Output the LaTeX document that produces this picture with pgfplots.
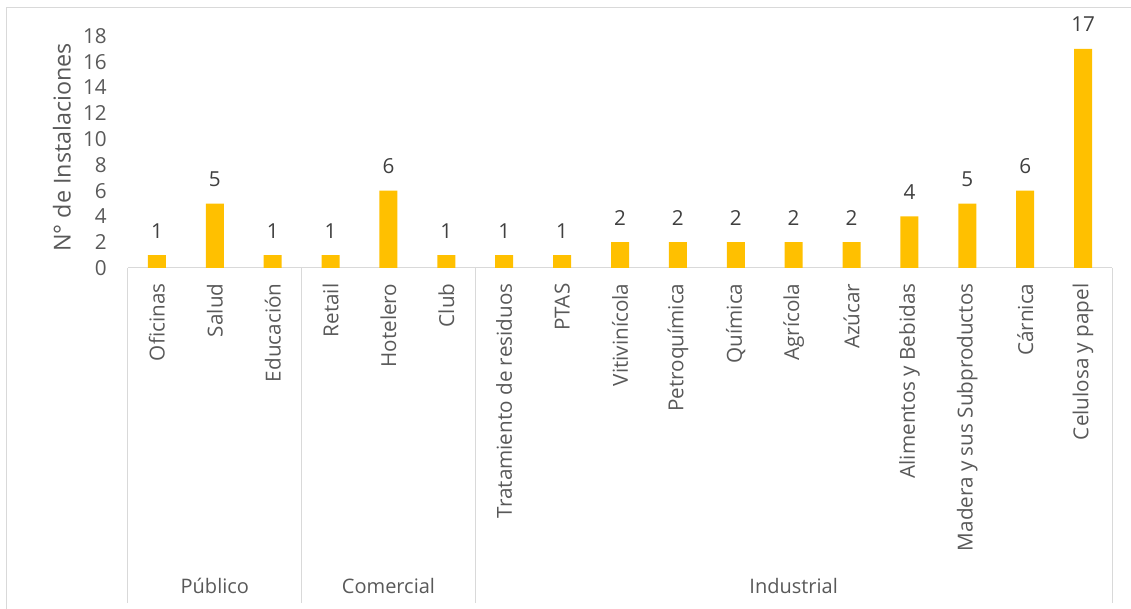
\documentclass[border=0pt]{standalone}
\usepackage{fontspec}
\setmainfont{Open Sans}
\usepackage{pgfplots}
\pgfplotsset{compat=1.18}
\definecolor{barc}{HTML}{FFC000}
\definecolor{txt}{HTML}{595959}
\definecolor{lbl}{HTML}{404040}
\definecolor{gridc}{HTML}{D9D9D9}
\begin{document}
\begin{tikzpicture}
\useasboundingbox (-96pt,-255.75pt) rectangle (752.25pt,201pt);
\draw[gridc, line width=0.75pt] (-90.75pt,-256pt) -- (-90.75pt,195pt) -- (753pt,195pt);
\begin{axis}[
  scale only axis, width=738pt, height=174pt,
  xmin=-0.5, xmax=16.5, ymin=0, ymax=18,
  ytick={0,2,...,18},
  xtick={0,...,16},
  xticklabels={Oficinas,Salud,Educación,Retail,Hotelero,Club,Tratamiento de residuos,PTAS,Vitivinícola,Petroquímica,Química,Agrícola,Azúcar,Alimentos y Bebidas,Madera y sus Subproductos,Cárnica,Celulosa y papel},
  separate axis lines,
  axis x line*=bottom, axis y line*=left,
  x axis line style={draw=gridc, line width=0.75pt, -},
  y axis line style={draw=none},
  major tick length=0pt, tick style={draw=none},
  /pgf/number format/assume math mode=true,
  yticklabel style={font=\fontsize{15.5}{18}\selectfont, text=txt, inner sep=0pt, anchor=east, xshift=-15.75pt},
  xticklabel style={font=\fontsize{15.5}{18}\selectfont, text=txt, inner sep=0pt, rotate=90, anchor=east, xshift=-11.5pt},
  ylabel={N° de Instalaciones},
  ylabel style={font=\fontsize{17.5}{20}\selectfont, text=txt, at={([xshift=-49.5pt]axis description cs:0,0.52)}, anchor=center, inner sep=0pt},
  ybar, bar width=13.5pt,
  nodes near coords,
  nodes near coords style={font=\fontsize{15.5}{18}\selectfont, text=lbl, anchor=south, inner sep=0pt, yshift=12.5pt},
  clip=false,
]
\addplot[fill=barc, draw=none] coordinates {
  (0,1) (1,5) (2,1) (3,1) (4,6) (5,1) (6,1) (7,1) (8,2) (9,2) (10,2) (11,2) (12,2) (13,4) (14,5) (15,6) (16,17)
};
\draw[gridc, line width=0.75pt] (axis cs:-0.5,0) -- ([yshift=-251.25pt]axis cs:-0.5,0);
\draw[gridc, line width=0.75pt] (axis cs:2.5,0) -- ([yshift=-251.25pt]axis cs:2.5,0);
\draw[gridc, line width=0.75pt] (axis cs:5.5,0) -- ([yshift=-251.25pt]axis cs:5.5,0);
\draw[gridc, line width=0.75pt] (axis cs:16.5,0) -- ([yshift=-251.25pt]axis cs:16.5,0);
\node[font=\fontsize{15}{18}\selectfont, text=txt, anchor=base, inner sep=0pt] at ([yshift=-243.75pt]axis cs:1,0) {Público};
\node[font=\fontsize{15}{18}\selectfont, text=txt, anchor=base, inner sep=0pt] at ([yshift=-243.75pt]axis cs:4,0) {Comercial};
\node[font=\fontsize{15}{18}\selectfont, text=txt, anchor=base, inner sep=0pt] at ([yshift=-243.75pt]axis cs:11,0) {Industrial};
\end{axis}
\end{tikzpicture}
\end{document}
